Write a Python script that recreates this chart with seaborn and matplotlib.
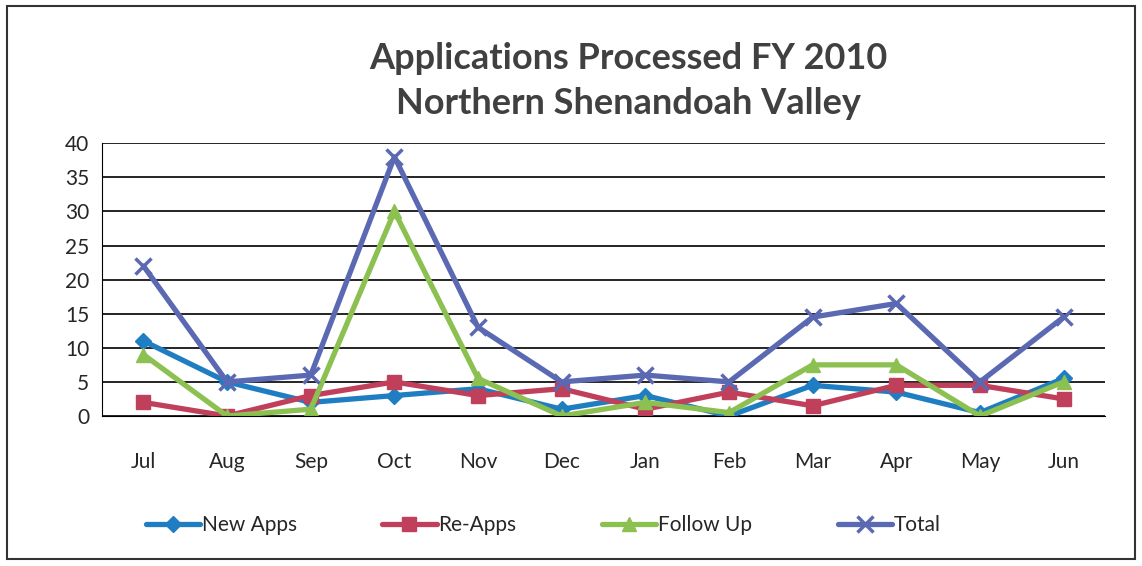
import numpy as np
import pandas as pd
import matplotlib
matplotlib.use("Agg")
import matplotlib.pyplot as plt
import seaborn as sns
from matplotlib.patches import Rectangle

months = ["Jul", "Aug", "Sep", "Oct", "Nov", "Dec", "Jan", "Feb", "Mar", "Apr", "May", "Jun"]
new_apps = [11, 5, 2, 3, 4, 1, 3, 0, 4.5, 3.5, 0.5, 5.5]
re_apps = [2, 0, 3, 5, 3, 4, 1, 3.5, 1.5, 4.5, 4.5, 2.5]
follow_up = [9, 0, 1, 30, 5.5, 0, 2, 0.5, 7.5, 7.5, 0, 5]
total = [22, 5, 6, 38, 13, 5, 6, 5, 14.5, 16.5, 5, 14.5]

series = {
    "New Apps": (new_apps, "#1f7ec2", "D", 8),
    "Re-Apps": (re_apps, "#c0405c", "s", 10),
    "Follow Up": (follow_up, "#8cc152", "^", 10),
    "Total": (total, "#5b69b3", "x", 11),
}

sns.set_style("white")
plt.rcParams["font.family"] = ["Lato", "DejaVu Sans"]

fig = plt.figure(figsize=(11.42, 5.66), dpi=100)
ax = fig.add_axes([0.089, 0.265, 0.879, 0.482])

pos = np.arange(len(months))
for name, (vals, color, mk, ms) in series.items():
    df = pd.DataFrame({"pos": pos, "val": vals})
    sns.lineplot(data=df, x="pos", y="val", ax=ax, color=color, linewidth=3.8,
                 marker=mk, markersize=ms, markeredgecolor=color,
                 markeredgewidth=2.5 if mk == "x" else 1, label=name)

ax.set_xlim(-0.5, 11.5)
ax.set_ylim(0, 40)
ax.set_yticks(range(0, 41, 5))
ax.set_xticks(pos)
ax.set_xticklabels(months)
ax.set_xticks(np.arange(-0.5, 12, 1), minor=True)
ax.tick_params(axis="x", which="major", length=0, pad=26, labelsize=15)
ax.tick_params(axis="x", which="minor", length=6, width=1, color="black", direction="out")
ax.tick_params(axis="y", length=5, width=1, color="black", direction="out", labelsize=15, pad=4)
ax.grid(axis="y", color="black", linewidth=1.2)
ax.set_axisbelow(True)
for s in ["top", "right"]:
    ax.spines[s].set_visible(False)
ax.spines["left"].set_color("black")
ax.spines["bottom"].set_color("black")
ax.set_xlabel("")
ax.set_ylabel("")

leg = ax.legend(loc="upper center", bbox_to_anchor=(0.44, -0.295), ncol=4, frameon=False,
                fontsize=15, handlelength=2.6, handletextpad=0.1, columnspacing=4.1)

fig.text(0.55, 0.897, "Applications Processed FY 2010", ha="center", va="center",
         fontsize=26, fontweight="bold", color="#404040")
fig.text(0.55, 0.817, "Northern Shenandoah Valley", ha="center", va="center",
         fontsize=26, fontweight="bold", color="#404040")

fig.patches.append(Rectangle((0.006, 0.012), 0.988, 0.978, transform=fig.transFigure,
                             fill=False, edgecolor="#333333", linewidth=1.5))

fig.savefig("out.png", dpi=100)
